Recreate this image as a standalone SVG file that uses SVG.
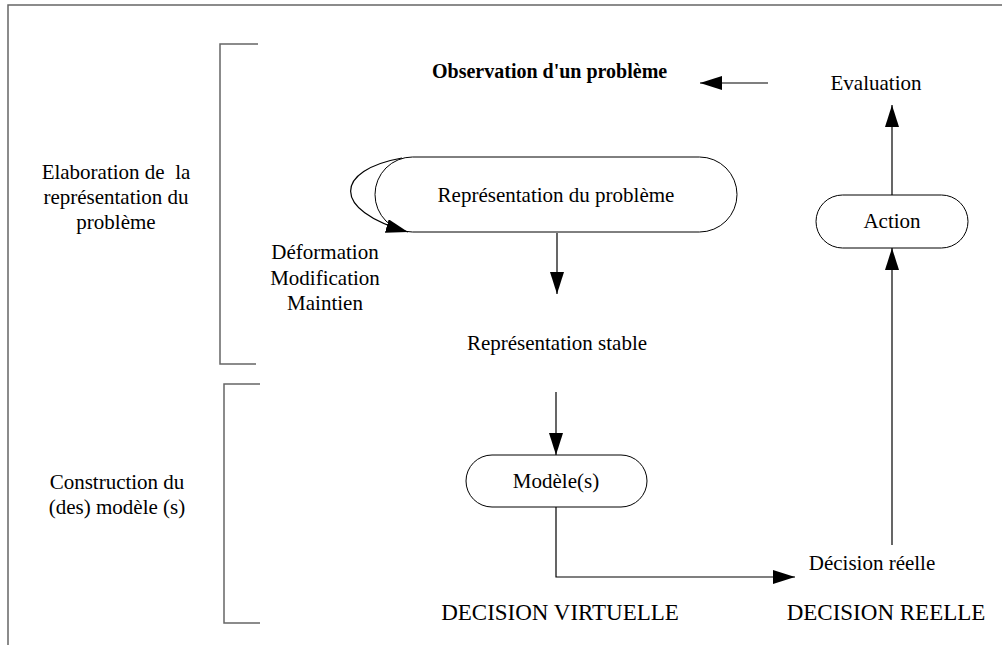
<svg xmlns="http://www.w3.org/2000/svg" width="1002" height="645" viewBox="0 0 1002 645">
<defs>
<marker id="ahb" viewBox="0 0 22 14" refX="22" refY="7" markerWidth="22" markerHeight="14" markerUnits="userSpaceOnUse" orient="auto">
<path d="M0,0 L22,7 L0,14 z" fill="#000"/>
</marker>
</defs>
<style>
.t{font-family:"Liberation Serif","Times New Roman",serif;font-size:21px;fill:#000;text-anchor:middle}
.b{font-weight:bold;font-size:20px;text-anchor:start}
.big{font-size:23px}
.pre{white-space:pre}
.box{fill:#fff;stroke:#000;stroke-width:1}
.ln{fill:none;stroke:#000;stroke-width:1.2}
.fr{fill:none;stroke:#666;stroke-width:1.5}
</style>
<rect width="1002" height="645" fill="#fff"/>
<g id="frame">
<path class="fr" d="M8,645 V5 H1002"/>
<path class="fr" d="M258,44 H220 V364 H256"/>
<path class="fr" d="M260,384 H224 V623 H260"/>
</g>
<g id="labels-left">
<text class="t pre" x="116" y="179" xml:space="preserve">Elaboration de  la</text>
<text class="t" x="116" y="204">représentation du</text>
<text class="t" x="116" y="229">problème</text>
<text class="t" x="117" y="489">Construction du</text>
<text class="t" x="117" y="514">(des) modèle (s)</text>
</g>
<g id="observation">
<text class="t b" x="432" y="78">Observation d'un problème</text>
</g>
<g id="evaluation">
<text class="t" x="876" y="90">Evaluation</text>
</g>
<g id="representation">
<rect class="box" x="375" y="157" width="362" height="75" rx="37.5" ry="37.5"/>
<text class="t" x="556" y="202">Représentation du problème</text>
</g>
<g id="deformation">
<text class="t" x="325" y="259">Déformation</text>
<text class="t" x="325" y="285">Modification</text>
<text class="t" x="325" y="310">Maintien</text>
</g>
<g id="stable">
<text class="t" x="557" y="350">Représentation stable</text>
</g>
<g id="modele">
<rect class="box" x="466" y="455" width="181" height="52" rx="26" ry="26"/>
<text class="t" x="556" y="488">Modèle(s)</text>
</g>
<g id="action">
<rect class="box" x="816" y="195" width="152" height="53" rx="26.5" ry="26.5"/>
<text class="t" x="892" y="228">Action</text>
</g>
<g id="decision-reelle">
<text class="t" x="872" y="570">Décision réelle</text>
</g>
<g id="footer">
<text class="t big" x="560" y="620">DECISION VIRTUELLE</text>
<text class="t big" x="886" y="620">DECISION REELLE</text>
</g>
<g id="connectors">
<path class="ln" d="M402,158 C335,170 330,210 408,232" marker-end="url(#ahb)"/>
<path class="ln" d="M557,233 V294" marker-end="url(#ahb)"/>
<path class="ln" d="M556,392 V455" marker-end="url(#ahb)"/>
<path class="ln" d="M556,507 V577 H795" marker-end="url(#ahb)"/>
<path class="ln" d="M892,545 V248" marker-end="url(#ahb)"/>
<path class="ln" d="M892,195 V105" marker-end="url(#ahb)"/>
<path class="ln" d="M768,83 H700" marker-end="url(#ahb)"/>
</g>
</svg>
